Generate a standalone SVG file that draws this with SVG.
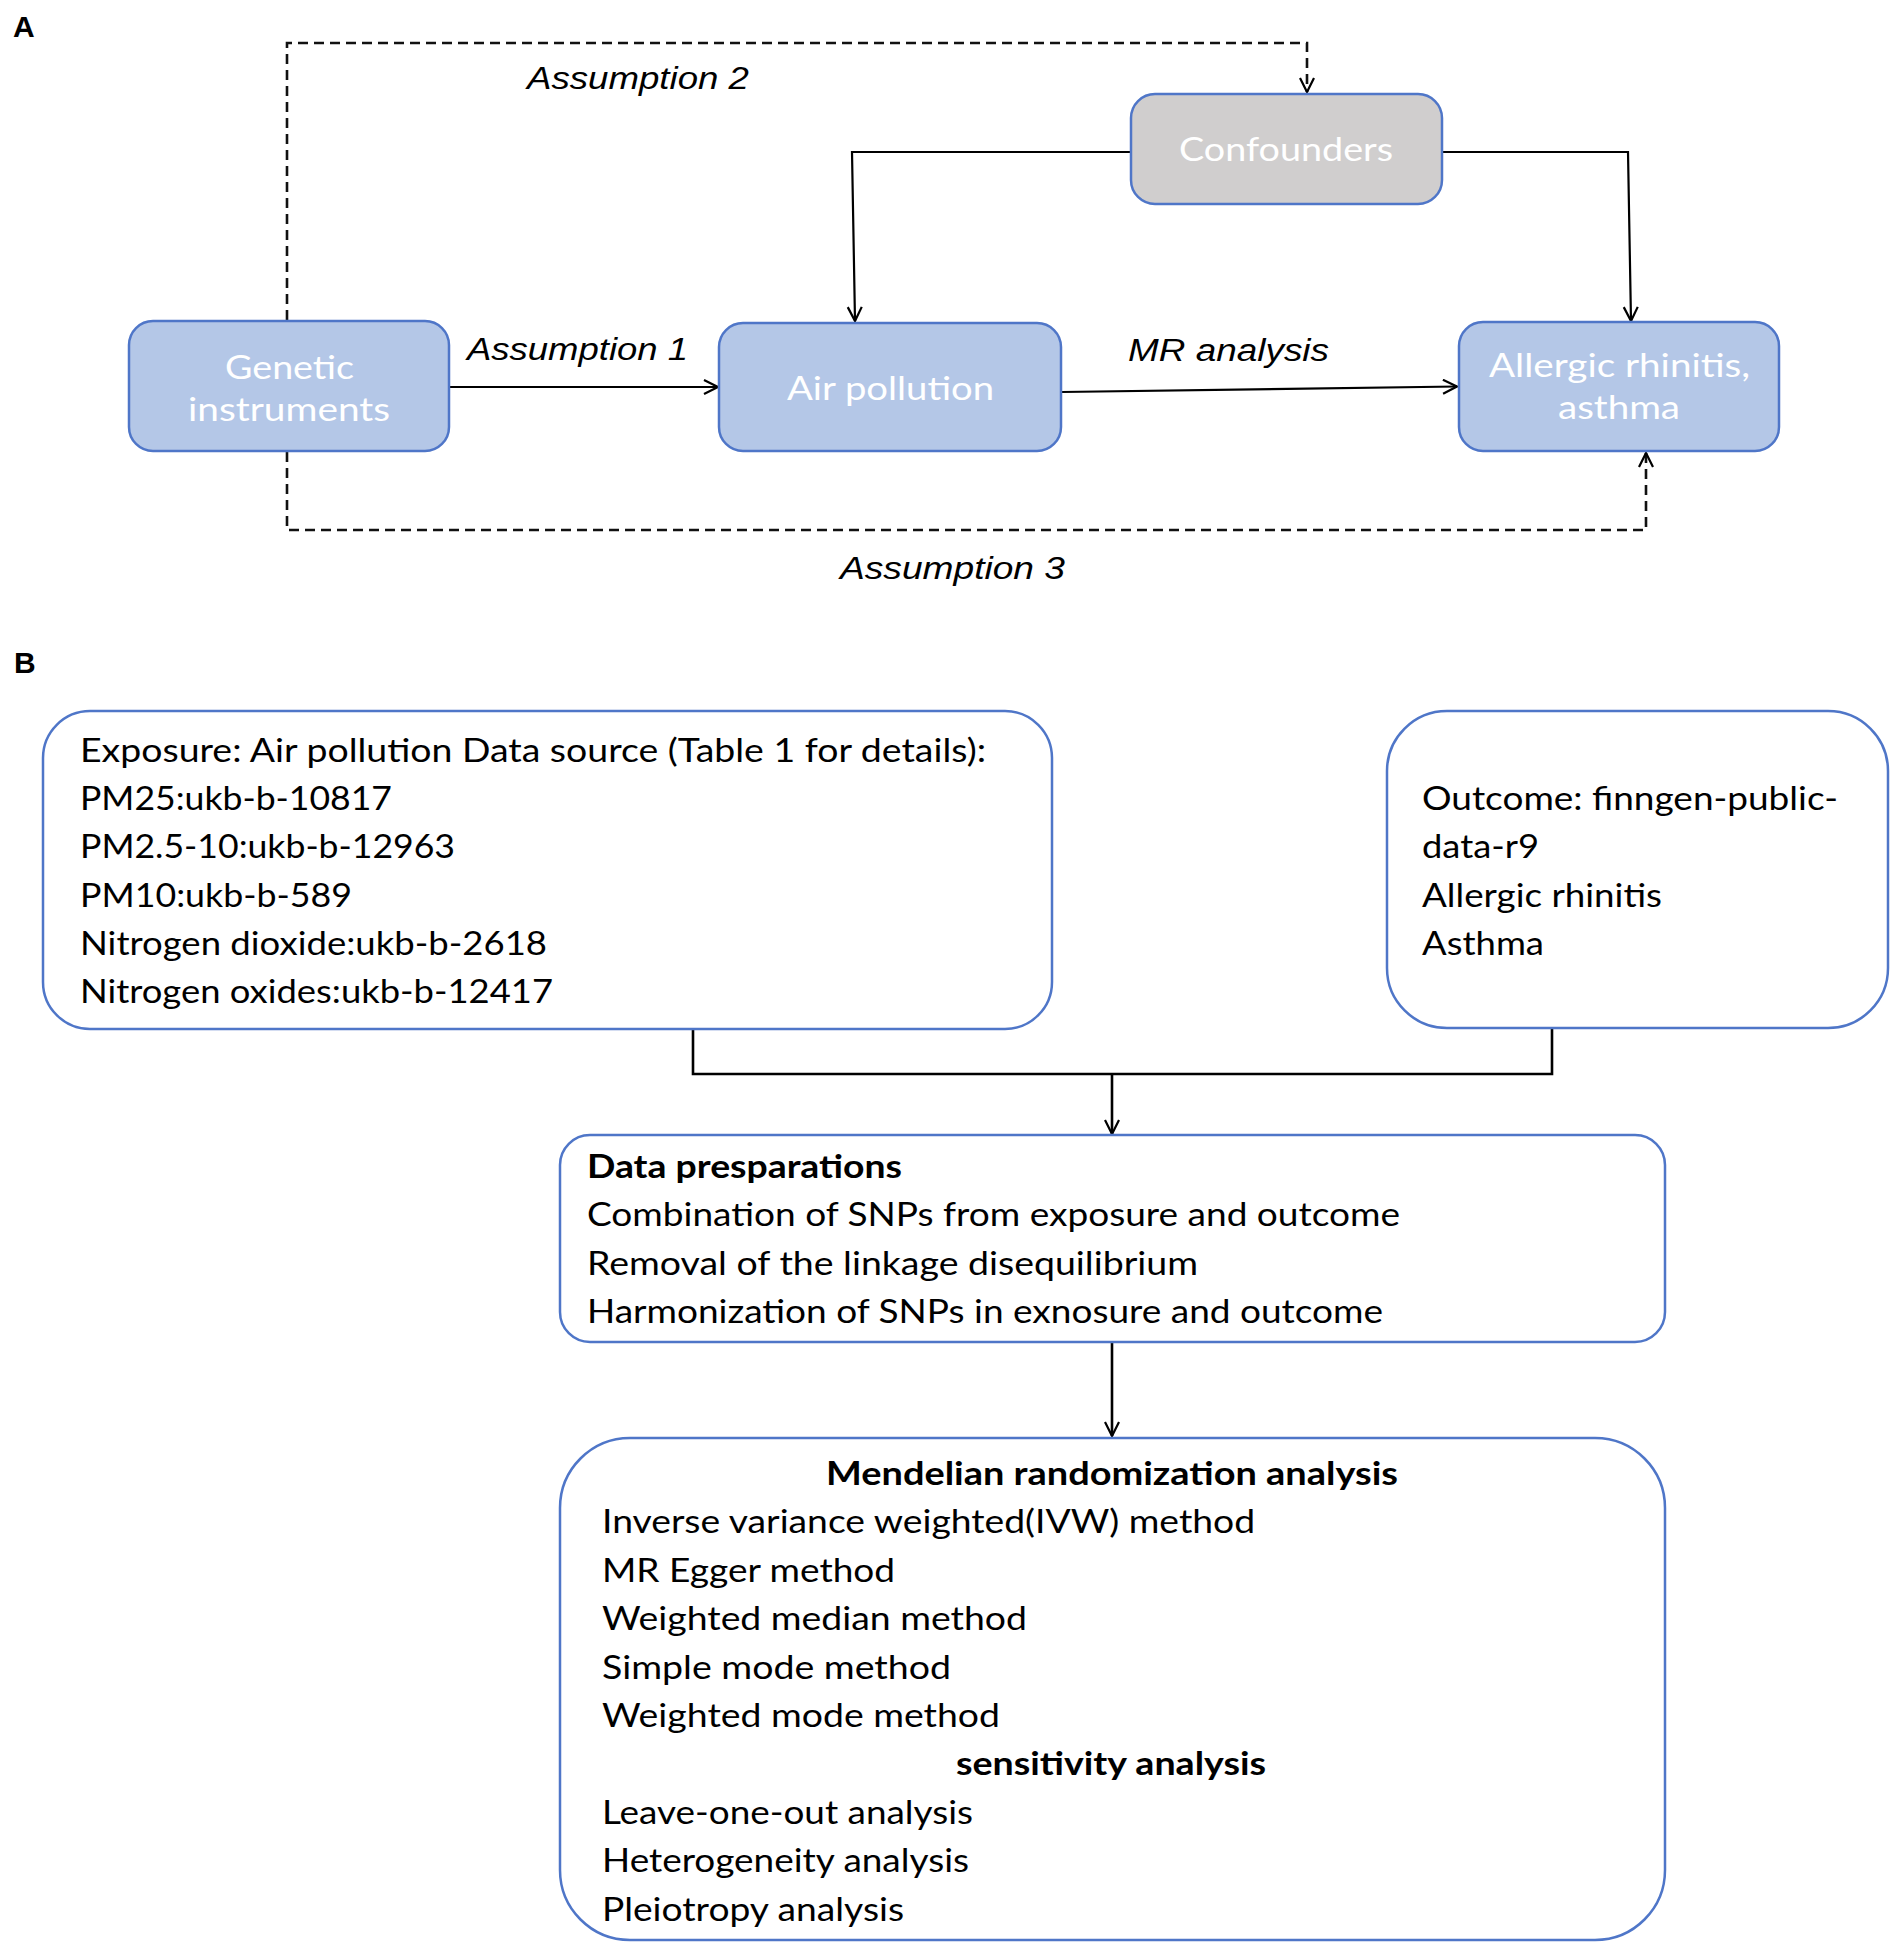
<svg xmlns="http://www.w3.org/2000/svg" width="1901" height="1953" viewBox="0 0 1901 1953">
<style>
.bg{fill:#ffffff}
.blue{fill:#b4c7e7;stroke:#4f76c8;stroke-width:2.5}
.gray{fill:#d0cece;stroke:#4f76c8;stroke-width:2.5}
.wbox{fill:#ffffff;stroke:#4f76c8;stroke-width:2.5}
.bt{font-family:Lato,"Open Sans","Liberation Sans",sans-serif;font-size:33px;fill:#ffffff}
.lbl{font-family:"Liberation Sans",Arial,sans-serif;font-size:31px;font-style:italic;fill:#000}
.panel{font-family:"Liberation Sans",Arial,sans-serif;font-size:30px;font-weight:bold;fill:#000}
.t{font-family:Lato,"Open Sans","Liberation Sans",sans-serif;font-size:33px;fill:#000}
.tb{font-family:Lato,"Open Sans","Liberation Sans",sans-serif;font-size:33px;font-weight:bold;fill:#000}
.solid{fill:none;stroke:#000;stroke-width:2.2}
.solid3{fill:none;stroke:#000;stroke-width:2.6}
.dash{fill:none;stroke:#111;stroke-width:2.6;stroke-dasharray:10 6}
</style>
<defs>
<marker id="ah" markerWidth="20" markerHeight="20" refX="15" refY="8" orient="auto" markerUnits="userSpaceOnUse">
<path d="M1,1 L15,8 L1,15" fill="none" stroke="#000" stroke-width="2.2" stroke-dasharray="none"/>
</marker>
</defs>
<rect class="bg" x="0" y="0" width="1901" height="1953"/>

<text class="panel" x="13" y="37">A</text>
<text class="panel" x="14" y="673">B</text>

<g id="connectors">
<path class="dash" d="M287,320 V43 H1307 V92" marker-end="url(#ah)"/>
<path class="dash" d="M287,452 V530 H1646 V453" marker-end="url(#ah)"/>
<path class="solid" d="M449,387 H718" marker-end="url(#ah)"/>
<path class="solid" d="M1062,392 L1457,386.5" marker-end="url(#ah)"/>
<path class="solid" d="M1131,152 H852 L855,321" marker-end="url(#ah)"/>
<path class="solid" d="M1442,152 H1628 L1631,321" marker-end="url(#ah)"/>
<path class="solid3" d="M693,1029 V1074 H1552 V1028"/>
<path class="solid3" d="M1112,1074 V1134" marker-end="url(#ah)"/>
<path class="solid3" d="M1112,1342 V1436" marker-end="url(#ah)"/>
<text class="lbl" x="527" y="89" textLength="222" lengthAdjust="spacingAndGlyphs">Assumption 2</text>
<text class="lbl" x="467" y="360" textLength="221" lengthAdjust="spacingAndGlyphs">Assumption 1</text>
<text class="lbl" x="1128" y="361" textLength="201" lengthAdjust="spacingAndGlyphs">MR analysis</text>
<text class="lbl" x="840" y="579" textLength="225" lengthAdjust="spacingAndGlyphs">Assumption 3</text>
</g>

<g id="genetic">
<rect class="blue" x="129" y="321" width="320" height="130" rx="24"/>
<text class="bt" x="225" y="379" textLength="129" lengthAdjust="spacingAndGlyphs">Genetic</text>
<text class="bt" x="188" y="421" textLength="202" lengthAdjust="spacingAndGlyphs">instruments</text>
</g>

<g id="air">
<rect class="blue" x="719" y="323" width="342" height="128" rx="24"/>
<text class="bt" x="787" y="400" textLength="207" lengthAdjust="spacingAndGlyphs">Air pollution</text>
</g>

<g id="confounders">
<rect class="gray" x="1131" y="94" width="311" height="110" rx="24"/>
<text class="bt" x="1179" y="161" textLength="214" lengthAdjust="spacingAndGlyphs">Confounders</text>
</g>

<g id="allergic">
<rect class="blue" x="1459" y="322" width="320" height="129" rx="24"/>
<text class="bt" x="1489" y="377" textLength="261" lengthAdjust="spacingAndGlyphs">Allergic rhinitis,</text>
<text class="bt" x="1558" y="419" textLength="122" lengthAdjust="spacingAndGlyphs">asthma</text>
</g>

<g id="exposure">
<rect class="wbox" x="43" y="711" width="1009" height="318" rx="47"/>
<text class="t" x="80" y="762" textLength="906" lengthAdjust="spacingAndGlyphs">Exposure: Air pollution Data source (Table 1 for details):</text>
<text class="t" x="80" y="810" textLength="312" lengthAdjust="spacingAndGlyphs">PM25:ukb-b-10817</text>
<text class="t" x="80" y="858" textLength="375" lengthAdjust="spacingAndGlyphs">PM2.5-10:ukb-b-12963</text>
<text class="t" x="80" y="907" textLength="272" lengthAdjust="spacingAndGlyphs">PM10:ukb-b-589</text>
<text class="t" x="80" y="955" textLength="467" lengthAdjust="spacingAndGlyphs">Nitrogen dioxide:ukb-b-2618</text>
<text class="t" x="80" y="1003" textLength="473" lengthAdjust="spacingAndGlyphs">Nitrogen oxides:ukb-b-12417</text>
</g>

<g id="outcome">
<rect class="wbox" x="1387" y="711" width="501" height="317" rx="60"/>
<text class="t" x="1422" y="810" textLength="416" lengthAdjust="spacingAndGlyphs">Outcome: finngen-public-</text>
<text class="t" x="1422" y="858" textLength="117" lengthAdjust="spacingAndGlyphs">data-r9</text>
<text class="t" x="1422" y="907" textLength="240" lengthAdjust="spacingAndGlyphs">Allergic rhinitis</text>
<text class="t" x="1422" y="955" textLength="122" lengthAdjust="spacingAndGlyphs">Asthma</text>
</g>

<g id="dataprep">
<rect class="wbox" x="560" y="1135" width="1105" height="207" rx="30"/>
<text class="tb" x="587" y="1178" textLength="315" lengthAdjust="spacingAndGlyphs">Data presparations</text>
<text class="t" x="587" y="1226" textLength="813" lengthAdjust="spacingAndGlyphs">Combination of SNPs from exposure and outcome</text>
<text class="t" x="587" y="1275" textLength="611" lengthAdjust="spacingAndGlyphs">Removal of the linkage disequilibrium</text>
<text class="t" x="587" y="1323" textLength="796" lengthAdjust="spacingAndGlyphs">Harmonization of SNPs in exnosure and outcome</text>
</g>

<g id="mr">
<rect class="wbox" x="560" y="1438" width="1105" height="502" rx="70"/>
<text class="tb" x="826" y="1485" textLength="572" lengthAdjust="spacingAndGlyphs">Mendelian randomization analysis</text>
<text class="t" x="602" y="1533" textLength="653" lengthAdjust="spacingAndGlyphs">Inverse variance weighted(IVW) method</text>
<text class="t" x="602" y="1582" textLength="293" lengthAdjust="spacingAndGlyphs">MR Egger method</text>
<text class="t" x="602" y="1630" textLength="425" lengthAdjust="spacingAndGlyphs">Weighted median method</text>
<text class="t" x="602" y="1679" textLength="349" lengthAdjust="spacingAndGlyphs">Simple mode method</text>
<text class="t" x="602" y="1727" textLength="398" lengthAdjust="spacingAndGlyphs">Weighted mode method</text>
<text class="tb" x="956" y="1775" textLength="310" lengthAdjust="spacingAndGlyphs">sensitivity analysis</text>
<text class="t" x="602" y="1824" textLength="371" lengthAdjust="spacingAndGlyphs">Leave-one-out analysis</text>
<text class="t" x="602" y="1872" textLength="367" lengthAdjust="spacingAndGlyphs">Heterogeneity analysis</text>
<text class="t" x="602" y="1921" textLength="302" lengthAdjust="spacingAndGlyphs">Pleiotropy analysis</text>
</g>
</svg>
